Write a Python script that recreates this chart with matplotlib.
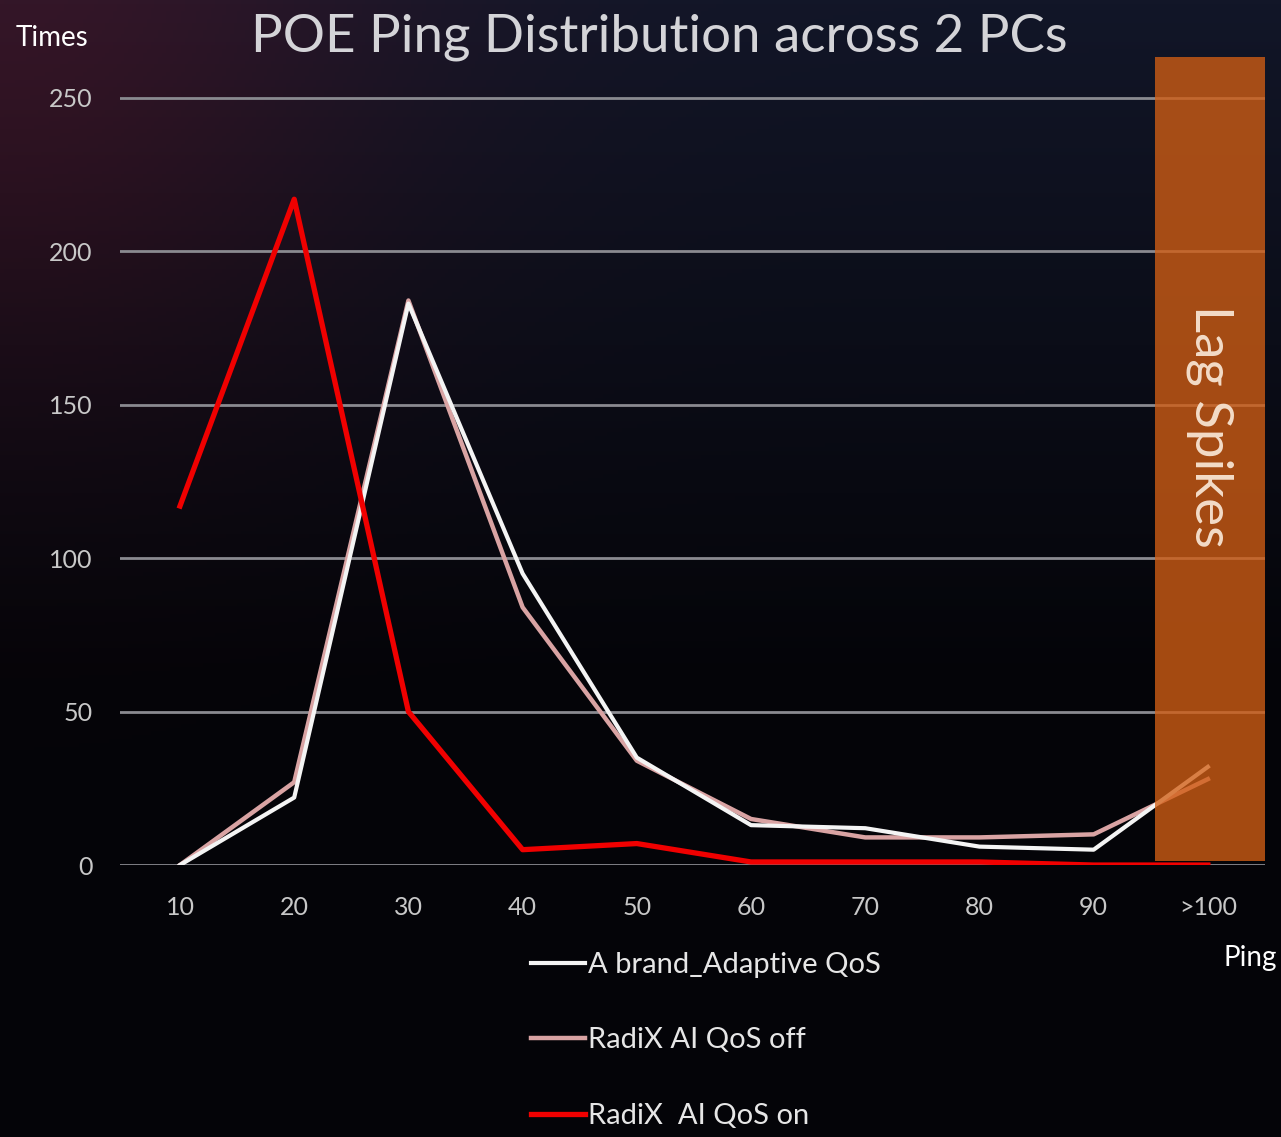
import matplotlib
matplotlib.use("Agg")
import matplotlib.pyplot as plt
import numpy as np
from matplotlib.patches import Rectangle

# data
categories = ["10", "20", "30", "40", "50", "60", "70", "80", "90", ">100"]
a_brand = [0, 22, 183, 95, 35, 13, 12, 6, 5, 32]
radix_off = [0, 27, 184, 84, 34, 15, 9, 9, 10, 28]
radix_on = [117, 217, 50, 5, 7, 1, 1, 1, 0, 0]
series_names = ["A brand_Adaptive QoS", "RadiX AI QoS off", "RadiX  AI QoS on"]

plt.rcParams['font.family'] = ['Lato', 'DejaVu Sans']

fig = plt.figure(figsize=(12.81, 11.37), dpi=100)

# background gradient
bg = fig.add_axes([0, 0, 1, 1])
H, W = 300, 340
yy, xx = np.mgrid[0:H, 0:W] / np.array([H, W])[:, None, None]
top = np.array([18, 22, 40]) / 255.0
bot = np.array([4, 4, 8]) / 255.0
t = np.clip(yy / 0.6, 0, 1)[..., None]
img = top * (1 - t) + bot * t
glow = np.exp(-((xx / 0.3) ** 2 + (yy / 0.35) ** 2))[..., None]
img = img + glow * (np.array([34, 0, 0]) / 255.0)
bg.imshow(np.clip(img, 0, 1), aspect='auto', extent=[0, 1, 0, 1])
bg.axis('off')

ax = fig.add_axes([0.0937, 0.2392, 0.8938, 0.7151])
ax.set_facecolor('none')
x = np.arange(len(categories))

ax.set_xlim(-0.525, 9.5)
ax.set_ylim(0, 265)
ax.set_yticks([0, 50, 100, 150, 200, 250])
ax.yaxis.grid(True, color='#8a8a90', lw=2)
ax.set_axisbelow(True)
for s in ax.spines.values():
    s.set_visible(False)
ax.set_xticks(x)
ax.set_xticklabels(categories)
ax.tick_params(length=0, colors='#c8c8c8', labelsize=18)
ax.tick_params(axis='y', pad=20)
ax.tick_params(axis='x', pad=22)

ax.plot(x, radix_off, color='#d9a3a3', lw=3.2, label=series_names[1], zorder=3)
ax.plot(x, a_brand, color='#f4f4f4', lw=3.0, label=series_names[0], zorder=3)
ax.plot(x, radix_on, color='#f00000', lw=3.8, label=series_names[2], zorder=4)

# lag spikes box
ax.add_patch(Rectangle((8.54, 1.3), 0.96, 262, facecolor='#d25e14', alpha=0.78,
                       edgecolor='none', zorder=3.5))
ax.text(9.02, 143, "Lag Spikes", rotation=-90, ha='center', va='center',
        fontsize=38, color='#f3dcc8', zorder=5)

fig.text(0.515, 0.967, "POE Ping Distribution across 2 PCs", ha='center', va='center',
         fontsize=38, color='#d4d4d8')
fig.text(0.012, 0.967, "Times", ha='left', va='center', fontsize=20, color='white')
fig.text(0.997, 0.157, "Ping", ha='right', va='center', fontsize=20, color='white')

h, l = ax.get_legend_handles_labels()
order = [1, 0, 2]
leg = fig.legend([h[i] for i in order], [l[i] for i in order], loc='upper left',
                 bbox_to_anchor=(0.394, 0.186), frameon=False, fontsize=21,
                 labelcolor='#e6e6e6', handlelength=1.85, handletextpad=0.1,
                 labelspacing=1.7)

fig.savefig("out.png", dpi=100)
